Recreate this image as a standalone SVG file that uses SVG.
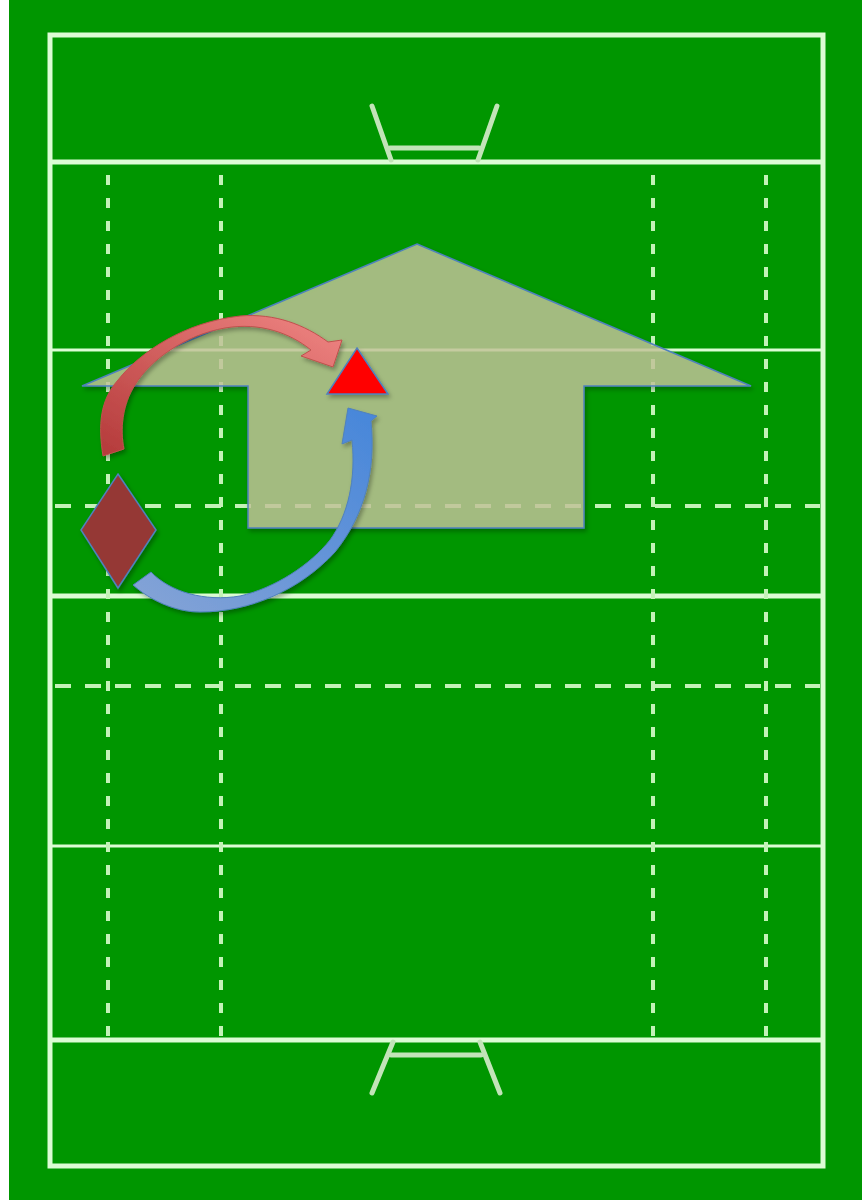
<svg xmlns="http://www.w3.org/2000/svg" width="862" height="1200" viewBox="0 0 862 1200">
<style>
.solid{stroke:#dcfcd4;fill:none}
.dashv{stroke:#c4f2b8;stroke-width:4;stroke-dasharray:10 13;fill:none}
.dashh{stroke:#c4f2b8;stroke-width:4;stroke-dasharray:16 14;fill:none}
.post{stroke:#c2e4b8;stroke-width:5;fill:none;stroke-linecap:round}
.shape{stroke:#4f81bd;stroke-width:1.5;stroke-linejoin:miter}
</style>
<defs>
<linearGradient id="redG" x1="1" y1="0" x2="0" y2="1">
<stop offset="0" stop-color="#f08684"/>
<stop offset="1" stop-color="#b43a3a"/>
</linearGradient>
<linearGradient id="blueG" x1="0" y1="1" x2="1" y2="0">
<stop offset="0" stop-color="#86a4d6"/>
<stop offset="1" stop-color="#4686da"/>
</linearGradient>
<filter id="sh" x="-10%" y="-10%" width="130%" height="130%">
<feDropShadow dx="2" dy="3" stdDeviation="2" flood-color="#000" flood-opacity="0.3"/>
</filter>
</defs>
<rect x="0" y="0" width="862" height="1200" fill="#009600"/>
<rect x="0" y="0" width="9" height="1200" fill="#ffffff"/>
<g id="pitch">
<rect x="50" y="35" width="773" height="1131" class="solid" stroke-width="5"/>
<line x1="52" y1="162" x2="821" y2="162" class="solid" stroke-width="5"/>
<line x1="52" y1="350" x2="821" y2="350" class="solid" stroke-width="3"/>
<line x1="52" y1="596" x2="821" y2="596" class="solid" stroke-width="5"/>
<line x1="52" y1="846" x2="821" y2="846" class="solid" stroke-width="3"/>
<line x1="52" y1="1040" x2="821" y2="1040" class="solid" stroke-width="5"/>
<line x1="55" y1="506" x2="820" y2="506" class="dashh"/>
<line x1="55" y1="686" x2="820" y2="686" class="dashh"/>
<line x1="108" y1="175" x2="108" y2="1036" class="dashv"/>
<line x1="221" y1="175" x2="221" y2="1036" class="dashv"/>
<line x1="653" y1="175" x2="653" y2="1036" class="dashv"/>
<line x1="766" y1="175" x2="766" y2="1036" class="dashv"/>
<line x1="372" y1="106" x2="391" y2="160" class="post"/>
<line x1="497" y1="106" x2="478" y2="160" class="post"/>
<line x1="390" y1="148" x2="479" y2="148" class="post"/>
<line x1="393" y1="1042" x2="372" y2="1093" class="post"/>
<line x1="480" y1="1042" x2="500" y2="1093" class="post"/>
<line x1="391" y1="1055" x2="481" y2="1055" class="post"/>
</g>
<g id="zone-arrow" filter="url(#sh)">
<polygon points="417,244 751,386 584,386 584,528 248,528 248,386 82,386" fill="#c5c79b" fill-opacity="0.8" class="shape" stroke-width="2"/>
</g>
<g id="triangle">
<polygon points="357,348 388,394 327,394" fill="#ff0000" class="shape" stroke-width="2" filter="url(#sh)"/>
</g>
<g id="diamond">
<polygon points="118,474 156,530 118,588 81,530" fill="#953735" class="shape" filter="url(#sh)"/>
</g>
<g id="connectors" filter="url(#sh)">
<path d="M103,456 C98,425 100,400 118,380 C140,352 185,322 240,316 C275,313 305,325 328,342 L342,340 L333,367 L301,356 L311,350 C290,333 260,322 225,328 C185,335 150,360 135,385 C122,405 120,430 124,449 Z" fill="url(#redG)" stroke="#c0504d" stroke-width="1"/>
<path d="M151,572 C170,592 205,602 240,596 C275,588 310,565 330,540 C348,515 356,480 352,440 L342,444 L348,408 L377,416 L371,421 C376,470 365,515 335,552 C300,590 250,612 200,612 C175,612 150,600 133,585 Z" fill="url(#blueG)" stroke="#4f81bd" stroke-width="1"/>
</g>
</svg>
